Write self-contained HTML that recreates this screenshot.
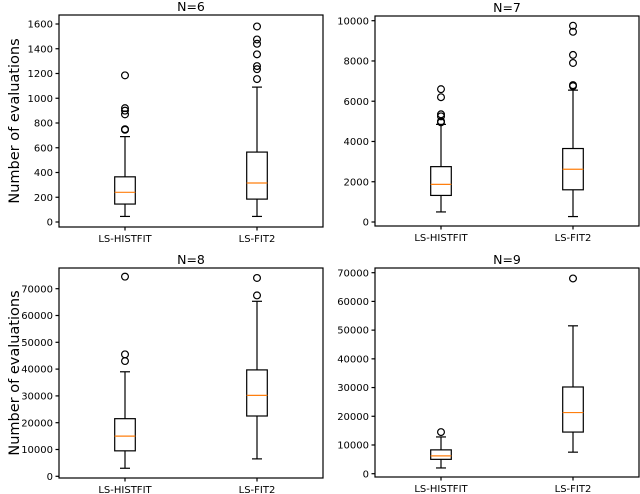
<!DOCTYPE html>
<html><head><meta charset="utf-8"><style>
body{margin:0;background:#fff;}
svg{display:block;font-family:"DejaVu Sans","Liberation Sans",sans-serif;}
</style></head><body>
<svg id="c" width="640" height="494" viewBox="0 0 640 494"></svg>
<script>
const categories = ["LS-HISTFIT","LS-FIT2"];
const titles = ["N=6","N=7","N=8","N=9"];
const ticksP1 = [0,200,400,600,800,1000,1200,1400,1600];
const ticksP2 = [0,2000,4000,6000,8000,10000];
const ticksP3 = [0,10000,20000,30000,40000,50000,60000,70000];
const ticksP4 = [0,10000,20000,30000,40000,50000,60000,70000];
// [whislo, q1, med, q3, whishi]
const statsP1 = [[45,145,240,365,690],[45,185,315,565,1090]];
const fliersP1 = [[750,745,870,900,920,1185],[1155,1235,1260,1355,1440,1475,1580]];
const statsP2 = [[500,1320,1870,2750,4850],[270,1600,2620,3650,6550]];
const fliersP2 = [[4950,5000,5250,5350,6200,6600],[6750,6800,7900,8300,9450,9750]];
const statsP3 = [[3000,9500,15000,21500,39000],[6500,22500,30200,39700,65300]];
const fliersP3 = [[43000,45500,74500],[67500,74000]];
const statsP4 = [[2000,5000,6200,8300,12800],[7500,14500,21300,30200,51500]];
const fliersP4 = [[14500],[68000]];

const svg = document.getElementById('c');
const NS = 'http://www.w3.org/2000/svg';
function mk(tag, attrs, parent){const e=document.createElementNS(NS,tag);for(const k in attrs)e.setAttribute(k,attrs[k]);(parent||svg).appendChild(e);return e;}

const panels = [
 {L:59,R:323,T:15,B:227,y0:222,yv:1600,yp:24,ticks:ticksP1,stats:statsP1,fliers:fliersP1,ylab:true},
 {L:375,R:639,T:16,B:226,y0:222,yv:10000,yp:20.7,ticks:ticksP2,stats:statsP2,fliers:fliersP2,ylab:false},
 {L:59,R:323,T:268,B:478,y0:476.3,yv:70000,yp:288.7,ticks:ticksP3,stats:statsP3,fliers:fliersP3,ylab:true},
 {L:375,R:639,T:268,B:477,y0:473.7,yv:70000,yp:272.7,ticks:ticksP4,stats:statsP4,fliers:fliersP4,ylab:false}
];
const SW = 1.2;

panels.forEach((p,i)=>{
  const g = mk('g',{});
  
  
  const y = v => p.y0 + (v/p.yv)*(p.yp - p.y0);
  const unit = (p.R-p.L)/2;
  const x = k => p.L + unit*(k+0.5);
  const t = mk('text',{x:(p.L+p.R)/2,y:p.T-4,'text-anchor':'middle','font-size':12.5,fill:'#000'},g);
  t.textContent = titles[i];
  
  
  p.ticks.forEach(v=>{
    mk('line',{x1:p.L-3.5,x2:p.L,y1:y(v),y2:y(v),stroke:'#000','stroke-width':SW},g);
    const tl = mk('text',{x:p.L-6,y:y(v)+3.6,'text-anchor':'end','font-size':10,fill:'#000'},g);
    tl.textContent = v;
    
    
  });
  categories.forEach((c,k)=>{
    const cx = x(k);
    mk('line',{x1:cx,x2:cx,y1:p.B,y2:p.B+3.5,stroke:'#000','stroke-width':SW},g);
    const xl = mk('text',{x:cx,y:p.B+15,'text-anchor':'middle','font-size':10,fill:'#000'},g);
    xl.textContent = c;
    
    
    const s = p.stats[k];
    const bg = mk('g',{},g);
    
    
    const hw = 10.3, cw = 5;
    mk('line',{x1:cx,x2:cx,y1:y(s[0]),y2:y(s[1]),stroke:'#000','stroke-width':SW},bg);
    mk('line',{x1:cx,x2:cx,y1:y(s[3]),y2:y(s[4]),stroke:'#000','stroke-width':SW},bg);
    mk('line',{x1:cx-cw,x2:cx+cw,y1:y(s[0]),y2:y(s[0]),stroke:'#000','stroke-width':SW},bg);
    mk('line',{x1:cx-cw,x2:cx+cw,y1:y(s[4]),y2:y(s[4]),stroke:'#000','stroke-width':SW},bg);
    mk('rect',{x:cx-hw,y:y(s[3]),width:2*hw,height:y(s[1])-y(s[3]),fill:'none',stroke:'#000','stroke-width':SW},bg);
    mk('line',{x1:cx-hw,x2:cx+hw,y1:y(s[2]),y2:y(s[2]),stroke:'#ff7f0e','stroke-width':SW},bg);
    p.fliers[k].forEach(v=>{
      const f = mk('circle',{cx:cx,cy:y(v),r:3.4,fill:'none',stroke:'#000','stroke-width':SW},bg);
      
      
    });
  });
  mk('rect',{x:p.L,y:p.T,width:p.R-p.L,height:p.B-p.T,fill:'none',stroke:'#000','stroke-width':SW},g);
  if(p.ylab){
    const cy=(p.T+p.B)/2;
    const yl = mk('text',{x:0,y:0,transform:`translate(19,${cy}) rotate(-90)`,'text-anchor':'middle','font-size':14.5,fill:'#000'},g);
    yl.textContent = 'Number of evaluations';
    
    
  }
});
</script>
</body></html>
